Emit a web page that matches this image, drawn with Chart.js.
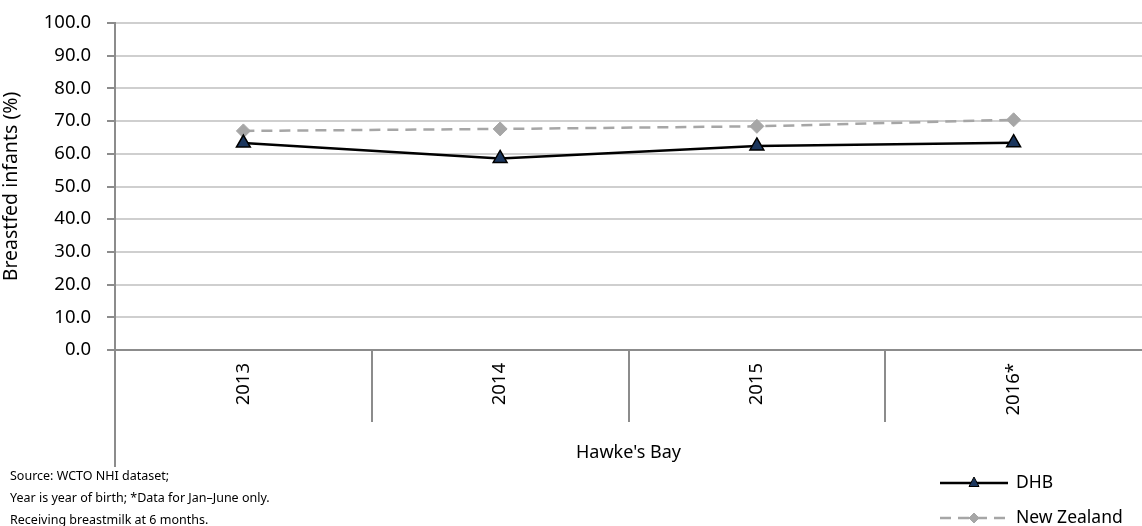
<!DOCTYPE html>
<html>
<head>
<meta charset="utf-8">
<script src="https://cdn.jsdelivr.net/npm/chart.js@4/dist/chart.umd.min.js"></script>
<style>
  html, body { margin: 0; padding: 0; background: #fff; overflow: hidden; }
  #wrap { width: 1142px; height: 526px; position: relative; }
</style>
</head>
<body>
<div id="wrap"><canvas id="chart"></canvas></div>
<script>
// Data
const years = ['2013', '2014', '2015', '2016*'];
const dhbValues = [63.3, 58.6, 62.4, 63.4];
const nzValues = [67.0, 67.6, 68.4, 70.4];
const yTicks = [0, 10, 20, 30, 40, 50, 60, 70, 80, 90, 100];
const groupLabel = "Hawke's Bay";
const sourceLines = [
    'Source: WCTO NHI dataset;',
    'Year is year of birth; *Data for Jan\u2013June only.',
    'Receiving breastmilk at 6 months.'
];

const FONT = "'Noto Sans', 'Open Sans', sans-serif";
const axisGrey = '#8c8c8c';

// Extra drawing: category separators, group label, source note, legend
const extrasPlugin = {
    id: 'extras',
    afterDraw(chart) {
        const ctx = chart.ctx;
        const x = chart.scales.x;
        const area = chart.chartArea;
        const step = x.getPixelForValue(1) - x.getPixelForValue(0);

        ctx.save();
        ctx.strokeStyle = axisGrey;
        ctx.lineWidth = 2;
        // separators between categories
        for (let i = 1; i < years.length; i++) {
            const px = Math.round(x.getPixelForValue(i) - step / 2);
            ctx.beginPath();
            ctx.moveTo(px, area.bottom);
            ctx.lineTo(px, area.bottom + 72);
            ctx.stroke();
        }
        // outer left line reaching down past the group label
        ctx.beginPath();
        ctx.moveTo(area.left, area.bottom);
        ctx.lineTo(area.left, area.bottom + 117);
        ctx.stroke();

        // group label
        ctx.fillStyle = '#000';
        ctx.font = '18px ' + FONT;
        ctx.textAlign = 'center';
        ctx.textBaseline = 'middle';
        ctx.fillText(groupLabel, (area.left + area.right) / 2, 453);

        // source note
        ctx.font = '12.5px ' + FONT;
        ctx.textAlign = 'left';
        sourceLines.forEach((line, i) => {
            ctx.fillText(line, 10, 476 + i * 22);
        });

        // legend
        ctx.font = '17.5px ' + FONT;
        chart.data.datasets.forEach((ds, i) => {
            const ly = 483 + i * 35;
            const mx = 974;
            ctx.strokeStyle = ds.borderColor;
            ctx.lineWidth = ds.borderWidth;
            ctx.setLineDash(ds.borderDash || []);
            ctx.beginPath();
            ctx.moveTo(940, ly);
            ctx.lineTo(1008, ly);
            ctx.stroke();
            ctx.setLineDash([]);
            ctx.fillStyle = ds.pointBackgroundColor;
            ctx.strokeStyle = ds.pointBorderColor;
            ctx.lineWidth = 1;
            ctx.beginPath();
            if (ds.pointStyle === 'triangle') {
                ctx.moveTo(mx, ly - 6);
                ctx.lineTo(mx + 5, ly + 3.5);
                ctx.lineTo(mx - 5, ly + 3.5);
                ctx.closePath();
            } else {
                ctx.moveTo(mx, ly - 5);
                ctx.lineTo(mx + 5, ly);
                ctx.lineTo(mx, ly + 5);
                ctx.lineTo(mx - 5, ly);
                ctx.closePath();
            }
            ctx.fill();
            ctx.stroke();
            ctx.fillStyle = '#000';
            ctx.fillText(ds.label, 1016, ly);
        });
        ctx.restore();
    }
};

const chart = new Chart(document.getElementById('chart').getContext('2d'), {
    type: 'line',
    data: {
        labels: years,
        datasets: [{
            label: 'DHB',
            data: dhbValues,
            borderColor: '#000000',
            borderWidth: 2.5,
            pointStyle: 'triangle',
            pointRadius: 8,
            pointBackgroundColor: '#1b365d',
            pointBorderColor: '#000000',
            pointBorderWidth: 1.5,
            tension: 0
        }, {
            label: 'New Zealand',
            data: nzValues,
            borderColor: '#a6a6a6',
            borderWidth: 2.5,
            borderDash: [11, 7],
            pointStyle: 'rectRot',
            pointRadius: 7,
            pointBackgroundColor: '#a6a6a6',
            pointBorderColor: '#a6a6a6',
            pointBorderWidth: 1,
            tension: 0
        }]
    },
    options: {
        responsive: true,
        maintainAspectRatio: false,
        animation: false,
        layout: { autoPadding: false, padding: { top: 23, right: 0, left: 0, bottom: 0 } },
        plugins: {
            legend: { display: false },
            tooltip: { enabled: false }
        },
        scales: {
            x: {
                offset: true,
                grid: { display: false, drawTicks: false },
                border: { display: true, color: axisGrey, width: 2 },
                ticks: {
                    color: '#000',
                    font: { family: FONT, size: 18.5 },
                    minRotation: 90,
                    maxRotation: 90,
                    padding: 13
                },
                afterFit(scale) {
                    scale.height = 176;
                    scale.paddingLeft = 0;
                    scale.paddingRight = 0;
                }
            },
            y: {
                min: 0,
                max: 100,
                afterBuildTicks(scale) {
                    scale.ticks = yTicks.map(v => ({ value: v }));
                },
                grid: {
                    color: '#cfcfcf',
                    lineWidth: 2,
                    tickLength: 8,
                    tickColor: axisGrey
                },
                border: { display: true, color: axisGrey, width: 2 },
                ticks: {
                    color: '#000',
                    font: { family: FONT, size: 18.5 },
                    padding: 16,
                    callback: v => v.toFixed(1)
                },
                title: {
                    display: true,
                    text: 'Breastfed infants (%)',
                    color: '#000',
                    font: { family: FONT, size: 19.5 },
                    padding: { top: 0, bottom: 0 }
                },
                afterFit(scale) {
                    scale.width = 115;
                    scale.paddingTop = 0;
                    scale.paddingBottom = 0;
                }
            }
        }
    },
    plugins: [extrasPlugin]
});
</script>
</body>
</html>
